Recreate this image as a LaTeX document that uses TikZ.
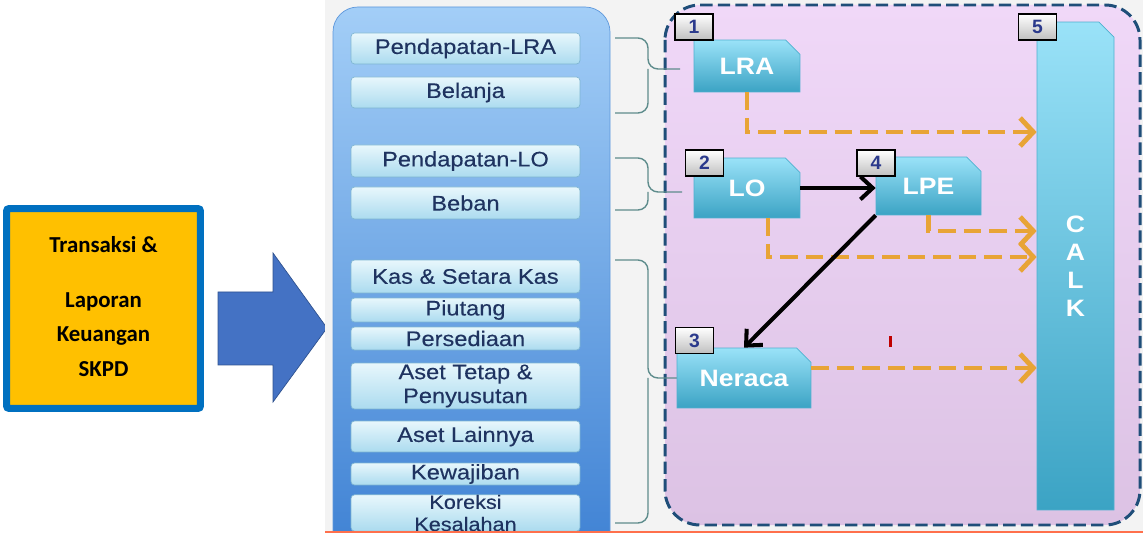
\documentclass[tikz,border=0pt]{standalone}
\usepackage{fontspec}
\setmainfont{Liberation Sans}
\newfontfamily\itemfont[FakeStretch=1.12, FakeBold=0.3]{Liberation Sans}
\newfontfamily\repfont[FakeStretch=1.12]{Liberation Sans}
\newfontfamily\srcfont{Carlito}
\usetikzlibrary{arrows.meta, shapes.misc}

\definecolor{srcyellow}{HTML}{FFC000}
\definecolor{srcblue}{HTML}{0070C0}
\definecolor{bigarrow}{HTML}{4472C4}
\definecolor{bigarrowline}{HTML}{2F528F}
\definecolor{screenbg}{HTML}{F3F3F3}
\definecolor{paneltop}{HTML}{A3CEF7}
\definecolor{panelbot}{HTML}{3A7ED2}
\definecolor{panelline}{HTML}{5E98DC}
\definecolor{itemtop}{HTML}{E8F7FC}
\definecolor{itembot}{HTML}{ABDBEF}
\definecolor{itemline}{HTML}{7FB6D2}
\definecolor{itemtext}{HTML}{1F3360}
\definecolor{reptop}{HTML}{9AE2F8}
\definecolor{repbot}{HTML}{3BA3C4}
\definecolor{repline}{HTML}{4FB0CF}
\definecolor{regionline}{HTML}{1F4E79}
\definecolor{regiontop}{HTML}{F0D8F8}
\definecolor{regionbot}{HTML}{DCC2E4}
\definecolor{flow}{HTML}{E8A436}
\definecolor{bracecol}{HTML}{5E8C8C}
\definecolor{numtext}{HTML}{2B3A8C}

\begin{document}
\begin{tikzpicture}
    [x=0.02cm, y=-0.02cm,
     srcbox/.style={draw=srcblue, line width=4pt, fill=srcyellow, rounded corners=1.5pt,
        minimum width=3.88cm, minimum height=4cm, align=center,
        font=\srcfont\bfseries\fontsize{13}{19.6}\selectfont},
     item/.style={draw=itemline, rounded corners=2pt, top color=itemtop, bottom color=itembot,
        minimum width=4.58cm, inner sep=0pt, align=center, text=itemtext,
        font=\itemfont\fontsize{12}{13.6}\selectfont},
     report/.style={chamfered rectangle, chamfered rectangle corners=north east,
        chamfered rectangle xsep=0.18cm, draw=repline, top color=reptop, bottom color=repbot,
        inner sep=0pt, text=white, font=\repfont\bfseries\fontsize{13.5}{16}\selectfont},
     numbox/.style={draw=black, line width=0.9pt, top color=white, bottom color=black!25,
        minimum width=0.76cm, minimum height=0.52cm, inner sep=0pt, text=numtext,
        font=\bfseries\fontsize{11}{11}\selectfont},
     brace/.style={draw=bracecol, line width=0.8pt, rounded corners=2mm},
     flowarrow/.style={draw=flow, line width=2.8pt, dash pattern=on 10pt off 4.5pt,
        -{Straight Barb[length=7.5pt,width=16pt]}},
     blackarrow/.style={line width=2.3pt, -{Straight Barb[length=7pt,width=13pt]}}]
    \useasboundingbox (0,0) rectangle (1143,533);

    % source box and big arrow
    \node[srcbox] (src) at (103.5,308.5) {Transaksi \&\\[12pt]Laporan\\Keuangan\\SKPD\\[-17pt]};
    \draw[fill=bigarrow, draw=bigarrowline] (218,292) -- (273,292) -- (273,253) -- (327,328)
        -- (273,402) -- (273,365) -- (218,365) -- cycle;

    \begin{scope}
        \clip (325,0) rectangle (1143,533);
        \fill[screenbg] (325,0) rectangle (1143,533);

        % accounts panel
        \draw[panelline, rounded corners=0.5cm, top color=paneltop, bottom color=panelbot]
            (333,7) rectangle (610,580);
        \node[item, minimum height=0.62cm] (plra) at (465.5,48.5) {Pendapatan-LRA};
        \node[item, minimum height=0.62cm] (belanja) at (465.5,92.5) {Belanja};
        \node[item, minimum height=0.64cm] (plo) at (465.5,161) {Pendapatan-LO};
        \node[item, minimum height=0.64cm] (beban) at (465.5,203) {Beban};
        \node[item, minimum height=0.66cm] (kas) at (465.5,276.5) {Kas \& Setara Kas};
        \node[item, minimum height=0.48cm] (piutang) at (465.5,310) {Piutang};
        \node[item, minimum height=0.46cm] (sedia) at (465.5,338.5) {Persediaan};
        \node[item, minimum height=0.92cm] (tetap) at (465.5,386) {Aset Tetap \&\\Penyusutan};
        \node[item, minimum height=0.62cm] (lain) at (465.5,436.5) {Aset Lainnya};
        \node[item, minimum height=0.44cm] (wajib) at (465.5,474) {Kewajiban};
        \node[item, minimum height=0.72cm, font=\itemfont\fontsize{11}{12.6}\selectfont] (koreksi)
            at (465.5,513) {Koreksi\\Kesalahan};

        % reports region
        \draw[regionline, line width=1.7pt, dash pattern=on 7pt off 3pt, rounded corners=0.7cm,
            top color=regiontop, bottom color=regionbot] (665,5) rectangle (1140,525);

        \draw[brace] (615,38) -| (648,69) -- (680,69);
        \draw[brace] (615,113) -| (648,69);
        \draw[brace] (615,158) -| (648,192) -- (682,192);
        \draw[brace] (615,210) -| (648,192);
        \draw[brace] (615,260) -| (648,378) -- (677,378);
        \draw[brace] (615,523) -| (648,378);

        \node[report, minimum width=2.12cm, minimum height=1.04cm] (lra) at (747,66) {LRA};
        \node[report, minimum width=2.12cm, minimum height=1.2cm] (lo) at (747,188) {LO};
        \node[report, minimum width=2.1cm, minimum height=1.16cm] (lpe) at (928.5,186) {LPE};
        \node[report, minimum width=2.68cm, minimum height=1.2cm] (neraca) at (744,378) {Neraca};
        \node[report, minimum width=1.54cm, minimum height=9.76cm, align=center] (calk)
            at (1075.5,266) {C\\A\\L\\K};

        \node[numbox] (n1) at (694,27) {1};
        \node[numbox] (n2) at (704.5,163) {2};
        \node[numbox] (n3) at (694.5,340.5) {3};
        \node[numbox] (n4) at (876,163) {4};
        \node[numbox] (n5) at (1037.5,27) {5};

        \coordinate (in1) at ([yshift=2.68cm]calk.west);
        \coordinate (in2) at ([yshift=0.7cm]calk.west);
        \coordinate (in3) at ([yshift=0.18cm]calk.west);
        \coordinate (in4) at ([yshift=-2.04cm]calk.west);

        \draw[flowarrow] (lra.south) |- (in1);
        \draw[flowarrow] (lpe.south) |- (in2);
        \draw[flowarrow] ([xshift=0.42cm]lo.south) |- (in3);
        \draw[flowarrow] (neraca.east |- in4) -- (in4);
        \draw[blackarrow] (lo.east) -- (lo.east -| lpe.west);
        \draw[blackarrow] (lpe.south west) -- (neraca.north);

        \fill[red!75!black] (889,336) rectangle (892,347);
        \draw[red!60!orange!70, line width=1.2pt] (325,532.5) -- (1143,532.5);
    \end{scope}
\end{tikzpicture}
\end{document}
